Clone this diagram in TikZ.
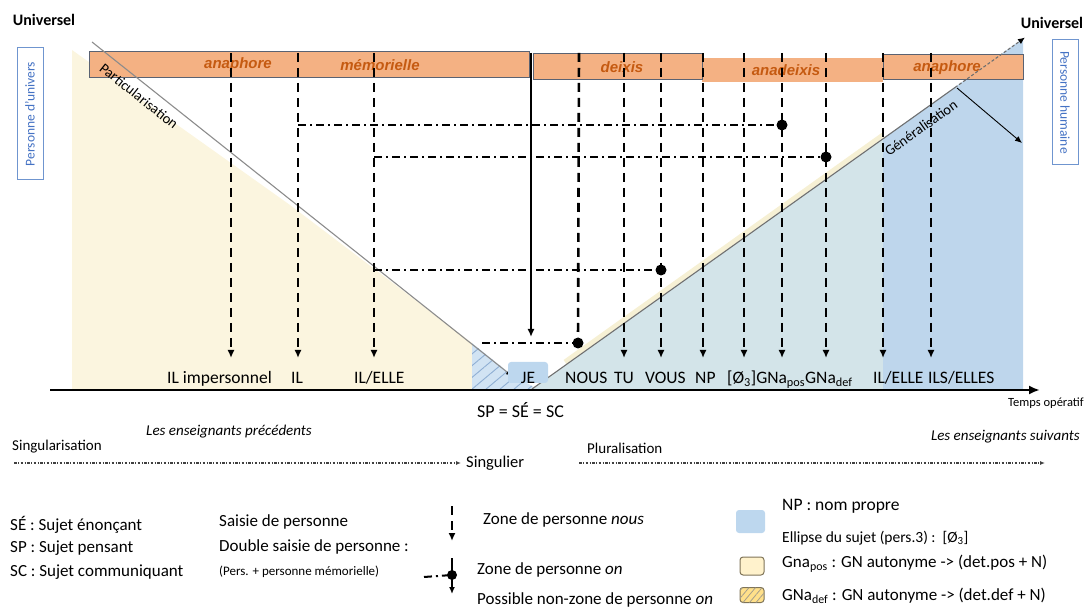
\documentclass[tikz,border=0pt]{standalone}
\usepackage{fontspec}
\setmainfont{Carlito}
\newfontfamily\arialf{Liberation Sans}
\usetikzlibrary{arrows.meta,patterns.meta}
\newcommand\fsz[1]{\fontsize{#1}{#1}\selectfont}
\definecolor{creamR}{HTML}{FBF5DF}
\definecolor{stripR}{HTML}{F6F0D4}
\definecolor{tealR}{HTML}{D3E4E9}
\definecolor{blueR}{HTML}{BED6EC}
\definecolor{barfill}{HTML}{F4B183}
\definecolor{bartext}{HTML}{C55A11}
\definecolor{barline}{HTML}{5A6272}
\definecolor{boxblue}{HTML}{6F95CF}
\definecolor{boxtext}{HTML}{4472C4}
\definecolor{jeblue}{HTML}{BDD7EE}
\definecolor{hatchblue}{HTML}{8FAFD3}
\definecolor{gline}{HTML}{8C8C8C}
\definecolor{legcream}{HTML}{FFF2CC}
\definecolor{leggold}{HTML}{FFE08A}
\definecolor{legline}{HTML}{7F7458}
\begin{document}
\begin{tikzpicture}[x=1pt,y=-1pt,
  lab/.style={font=\fsz{17.5}, inner sep=0pt, anchor=base west},
  leg/.style={font=\fsz{17}, inner sep=0pt, anchor=west},
  small/.style={font=\fsz{15}, inner sep=0pt, anchor=west},
  bar/.style={fill=barfill, draw=barline, line width=1pt, inner sep=0pt},
  bartxt/.style={font=\arialf\bfseries\itshape\fsz{15}, text=bartext, inner sep=0pt},
  vd/.style={line width=2.6pt, dash pattern=on 9pt off 6pt, -{Latex[length=8pt,width=7pt]}},
  vdn/.style={line width=2.6pt, dash pattern=on 9pt off 6pt},
  hd/.style={line width=2pt, dash pattern=on 8pt off 4pt on 2pt off 4pt},
  dot/.style={circle, fill=black, inner sep=0pt, minimum size=11pt},
  ldot/.style={line width=1pt, black!75, dash pattern=on 2.5pt off 1.5pt on 1pt off 1.5pt, -{Latex[length=5pt,width=4pt]}},
  sidebox/.style={draw=boxblue, line width=1pt, fill=white, font=\fsz{13.5}, text=boxtext, minimum width=#1, minimum height=26pt, inner sep=0pt},
]
\useasboundingbox (0,0) rectangle (1090,609);

% ---------- background regions
\fill[creamR] (72,50) -- (290,205) -- (472,343) -- (472,389) -- (72,389) -- cycle;
\fill[jeblue!70] (472,343) -- (508,372) -- (537,389) -- (472,389) -- cycle;
\fill[pattern={Lines[angle=40,distance=9pt,line width=0.9pt]}, pattern color=hatchblue] (472,343) -- (508,372) -- (537,389) -- (472,389) -- cycle;
\fill[tealR] (532,389) -- (883,138.4) -- (883,389) -- cycle;
\fill[blueR] (883,138.4) -- (1023,38.4) -- (1023,389) -- (883,389) -- cycle;
\draw[stripR, line width=5pt] (565,362) -- (883,135);

% ---------- titles and side boxes
\node[font=\bfseries\fsz{16}, inner sep=0pt] (uL) at (44,20) {Universel};
\node[font=\bfseries\fsz{16}, inner sep=0pt] (uR) at (1052,23) {Universel};
\node[sidebox=132pt, rotate=90] (bxL) at (30,114) {Personne d'univers};
\node[sidebox=125pt, rotate=-90] (bxR) at (1065,102.5) {Personne humaine};

% ---------- bars
\node[bar, fill=barfill, draw=none, minimum width=181pt, minimum height=24pt] (bar3) at (792.5,70) {};
\node[bar, minimum width=440pt, minimum height=26pt] (bar1) at (309,65) {};
\node[bar, minimum width=169pt, minimum height=26pt] (bar2) at (617.5,67) {};
\node[bar, minimum width=140pt, minimum height=25pt] (bar4) at (953,67.5) {};
\node[bartxt] (a1) at (238,65) {anaphore};
\node[bartxt] (m1) at (380,65) {mémorielle};
\node[bartxt] (dx) at (622,67) {deixis};
\node[bartxt] (adx) at (786,70) {anadeixis};
\node[bartxt] (a2) at (947,68) {anaphore};

% ---------- Particularisation / Generalisation
\coordinate (pA) at (92,42);
\coordinate (pB) at (512,376);
\draw[gline, line width=1.1pt, -{Latex[length=6pt,width=5pt,color=black]}] (pA) -- (pB);
\node[font=\fsz{14.5}, rotate=-38.5, inner sep=0pt] (plab) at (139,96) {Particularisation};

\coordinate (gA) at (532,389);
\coordinate (gM) at (955,87.5);
\coordinate (gB) at (1025,37.5);
\draw[gline!80!black, line width=1.1pt] (gA) -- (gM);
\draw[gline!80!black, line width=1.1pt, dash pattern=on 3pt off 2pt, -{Latex[length=7pt,width=6pt,color=black]}] (gM) -- (gB);
\node[font=\fsz{14.5}, rotate=35.5, inner sep=0pt] (glab) at (921,128) {Généralisation};
\coordinate (hA) at (957,88);
\coordinate (hB) at (1022,143);
\draw[line width=0.9pt, -{Latex[length=7pt,width=6pt]}] (hA) -- (hB);

% ---------- vertical dashed arrows
\foreach \x [count=\i] in {231,298,374,624,661,703,744,782,826,883,931} {
  \coordinate (t\i) at (\x,53);
  \coordinate (b\i) at (\x,358);
  \draw[vd] (t\i) -- (b\i);
}
\coordinate (tN) at (579,53);
\node[dot] (dN) at (578,343) {};
\draw[vdn] (tN) -- (dN);
\coordinate (tJ) at (531,53);
\coordinate (bJ) at (531,337);
\draw[line width=2pt, -{Latex[length=8pt,width=7pt]}] (tJ) -- (bJ);

% ---------- dots and dash-dot lines
\node[dot] (d1) at (782,125) {};
\node[dot] (d2) at (826,157) {};
\node[dot] (d3) at (661,270) {};
\coordinate (h1) at (298,125);
\coordinate (h2) at (374,157);
\coordinate (h3) at (374,270);
\coordinate (h4) at (482,343);
\draw[hd] (h1) -- (d1.center);
\draw[hd] (h2) -- (d2.center);
\draw[hd] (h3) -- (d3.center);
\draw[hd] (h4) -- (dN.center);

% ---------- JE box
\node[fill=jeblue, rounded corners=3pt, minimum width=40pt, minimum height=21pt, inner sep=0pt] (jebox) at (528,372.5) {};
\node[font=\fsz{17.5}, inner sep=0pt, anchor=base] (je) at (528,384) {JE};

% ---------- axis
\coordinate (ax0) at (50,390);
\coordinate (ax1) at (1040,390);
\draw[line width=2.8pt, -{Latex[length=11pt,width=9pt]}] (ax0) -- (ax1);
\node[font=\fsz{12.5}, inner sep=0pt, anchor=west] (tps) at (1008,403) {Temps opératif};

% ---------- labels
\node[lab] (l1) at (167,384) {IL impersonnel};
\node[lab] (l2) at (291,384) {IL};
\node[lab] (l3) at (354,384) {IL/ELLE};
\node[lab] (l4) at (565,384) {NOUS};
\node[lab] (l5) at (614,384) {TU};
\node[lab] (l6) at (645,384) {VOUS};
\node[lab] (l7) at (695,384) {NP};
\node[lab] (l8) at (727,384) {[Ø\textsubscript{3}]GNa\textsubscript{pos}GNa\textsubscript{def}};
\node[lab] (l9) at (873,384) {IL/ELLE};
\node[lab] (l10) at (928,384) {ILS/ELLES};
\node[font=\fsz{18}, inner sep=0pt, anchor=west] (sp) at (477,410) {SP = SÉ = SC};

% ---------- singularisation / pluralisation
\node[small] (sing) at (12,447) {Singularisation};
\node[small, font=\fsz{15}\itshape] (ensp) at (146,432) {Les enseignants précédents};
\node[font=\fsz{16.5}, inner sep=0pt, anchor=west] (singu) at (466,463) {Singulier};
\node[small] (plur) at (587,448) {Pluralisation};
\node[small, font=\fsz{15}\itshape, anchor=east] (enss) at (1080,437) {Les enseignants suivants};
\coordinate (s0) at (14,463);
\coordinate (s1) at (461,463);
\coordinate (s2) at (579,463);
\coordinate (s3) at (1045,463);
\draw[ldot] (s0) -- (s1);
\draw[ldot] (s2) -- (s3);

% ---------- legend left
\node[leg] (lse) at (10,525) {SÉ : Sujet énonçant};
\node[leg] (lsp) at (10,548) {SP : Sujet pensant};
\node[leg] (lsc) at (10,572) {SC : Sujet communiquant};
\node[leg] (lsa) at (219,522) {Saisie de personne};
\node[leg] (lds) at (219,547) {Double saisie de personne :};
\node[leg, font=\fsz{13}] (lpe) at (219,572) {(Pers. + personne mémorielle)};
\coordinate (k1a) at (452,506);
\coordinate (k1b) at (452,541);
\draw[vd, line width=2.2pt] (k1a) -- (k1b);
\node[dot, minimum size=10pt] (kd) at (452,575) {};
\coordinate (k2a) at (452,558);
\coordinate (k2b) at (452,594);
\draw[line width=2pt, -{Latex[length=7pt,width=6pt]}] (k2a) -- (k2b);
\coordinate (k3) at (424,577);
\draw[hd] (k3) -- (kd.center);
\node[leg] (lzn) at (483,520) {Zone de personne \textit{nous}};
\node[leg] (lzo) at (477,570) {Zone de personne \textit{on}};
\node[leg] (lpz) at (477,600) {Possible non-zone de personne \textit{on}};

% ---------- legend right
\node[fill=jeblue, rounded corners=3pt, minimum width=29pt, minimum height=23pt, inner sep=0pt] (sqb) at (750.5,521.5) {};
\node[fill=legcream, draw=legline, line width=1pt, rounded corners=3pt, minimum width=24pt, minimum height=18pt, inner sep=0pt] (sqc) at (752,566) {};
\node[fill=leggold, draw=legline, line width=1pt, rounded corners=3pt, minimum width=24pt, minimum height=15pt, inner sep=0pt,
      postaction={pattern={Lines[angle=50,distance=5pt,line width=0.8pt]}, pattern color=legline!70}] (sqh) at (752,595) {};
\node[leg, font=\fsz{17.5}] (lnp) at (782,506) {NP : nom propre};
\node[leg, font=\fsz{15.5}] (lel) at (782,538) {Ellipse du sujet (pers.3) :\ \ [Ø\textsubscript{3}]};
\node[leg] (lgp) at (782,564) {Gna\textsubscript{pos} : GN autonyme -> (det.pos + N)};
\node[leg] (lgd) at (782,596) {GNa\textsubscript{def} : GN autonyme -> (det.def + N)};
\end{tikzpicture}
\end{document}
